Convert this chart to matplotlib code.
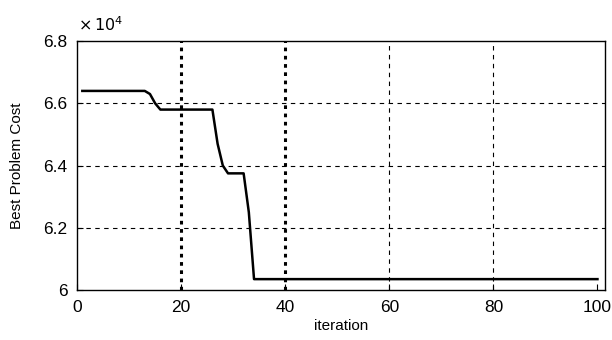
import numpy as np
import matplotlib
matplotlib.use('agg')
import matplotlib.pyplot as plt

plt.rcParams['font.family'] = ['Liberation Sans', 'DejaVu Sans']

# best cost per iteration, in units of 1e4
iterations = np.arange(1, 101)
cost = np.array([6.64] * 13 + [6.63, 6.60] + [6.58] * 11 + [6.47, 6.40]
                + [6.375] * 4 + [6.25] + [6.035] * 67)
x_ticks = [0, 20, 40, 60, 80, 100]
y_ticks = [6.0, 6.2, 6.4, 6.6, 6.8]

fig = plt.figure(figsize=(6.12, 3.4), dpi=100)
ax = fig.add_axes([0.126, 0.147, 0.863, 0.732])

# grid: heavy dotted at 20/40, light dashed elsewhere
for xv in x_ticks[1:-1]:
    heavy = xv in (20, 40)
    ax.axvline(xv, color='black', lw=2.2 if heavy else 0.8,
               ls=(0, (1.2, 1.5)) if heavy else (0, (4, 4)), zorder=1)
for yv in y_ticks[1:-1]:
    ax.axhline(yv, color='black', lw=0.8, ls=(0, (4, 4)), zorder=1)

ax.plot(iterations, cost, color='black', lw=1.8, zorder=3)

ax.set_xlim(0, 101.5)
ax.set_ylim(6.0, 6.8)
ax.set_xticks(x_ticks)
ax.set_yticks(y_ticks)
ax.set_yticklabels(['6', '6.2', '6.4', '6.6', '6.8'])
ax.tick_params(direction='in', length=4, labelsize=12.5, pad=7)
for s in ax.spines.values():
    s.set_linewidth(1.0)

ax.set_xlabel('iteration', fontsize=11, labelpad=3)
ax.set_ylabel('Best Problem Cost', fontsize=11, labelpad=14)
fig.text(0.128, 0.91, r'$\times\,10^4$', fontsize=11.5)

fig.savefig('out.png', dpi=100)
